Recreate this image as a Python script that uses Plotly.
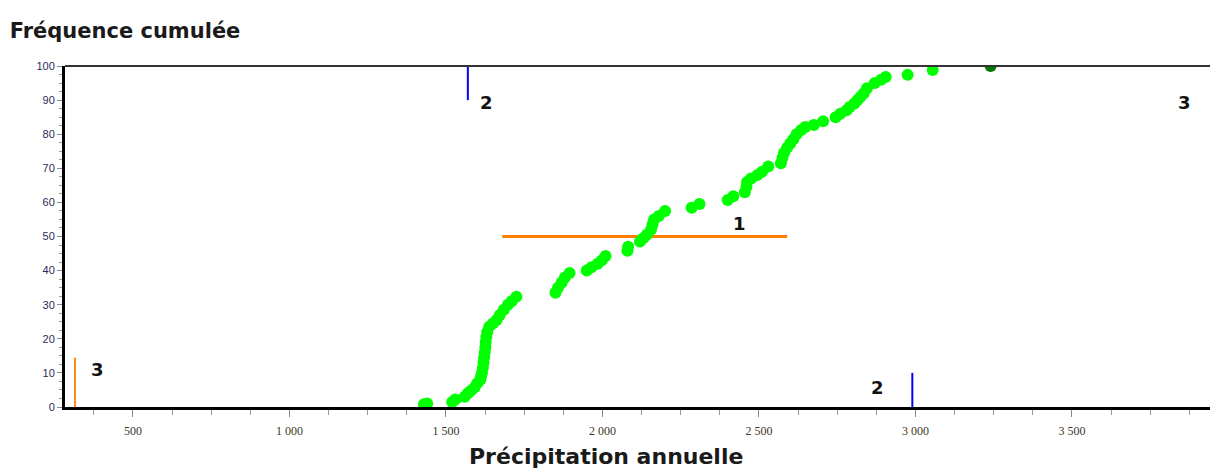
import plotly.graph_objects as go

# Annual precipitation (mm) and cumulative frequency (%)
precip = [1430, 1440, 1520, 1530, 1560, 1570, 1580, 1592, 1600, 1610,
          1612, 1615, 1618, 1620, 1622, 1624, 1626, 1627, 1629, 1632, 1638,
          1650, 1662, 1672, 1685, 1698, 1710, 1725,
          1850, 1858, 1870, 1880, 1895,
          1950, 1965, 1985, 1998, 2010,
          2080, 2082, 2120, 2130, 2142,
          2155, 2160, 2165, 2180, 2200,
          2285, 2310, 2400, 2418,
          2455, 2460, 2462, 2475, 2495, 2510, 2530,
          2570, 2575, 2580, 2590, 2600,
          2610, 2620, 2635, 2648, 2675, 2705,
          2745, 2760, 2780, 2790,
          2805, 2815, 2825, 2835, 2845,
          2870, 2890, 2905, 2975, 3055]
freq = [0.8, 1.0, 1.5, 2.2, 3.0, 4.0, 4.8, 5.8, 7.0, 8.0,
        9.0, 10.0, 11.5, 13.0, 14.5, 16.0, 17.5, 19.0, 20.5, 22.0, 23.5,
        24.5, 25.5, 27.0, 28.5, 30.0, 31.0, 32.3,
        33.5, 35.0, 36.5, 38.0, 39.3,
        40.0, 41.0, 42.0, 43.0, 44.3,
        45.8, 47.0, 48.5, 49.5, 50.5,
        52.0, 53.5, 55.0, 56.0, 57.5,
        58.4, 59.5, 60.7, 61.8,
        63.0, 64.5, 66.0, 67.0, 68.0, 69.0, 70.5,
        71.5, 73.0, 74.5, 76.0, 77.3,
        78.5, 80.0, 81.2, 82.1, 82.7, 83.8,
        85.0, 86.0, 87.0, 88.0,
        89.0, 90.0, 91.0, 92.0, 93.5,
        95.0, 96.0, 96.8, 97.4, 98.8]

# Maximum value, highlighted separately
max_precip = [3240]
max_freq = [100]

# Reference marks
median_x = [1680, 2590]
median_y = [50, 50]
q_low_x = [1570, 1570]
q_low_y = [90, 100]
q_high_x = [2990, 2990]
q_high_y = [0, 10]
min_x = [315, 315]
min_y = [0, 14.5]

x_tickvals = [500, 1000, 1500, 2000, 2500, 3000, 3500]
x_ticktext = ["500", "1 000", "1 500", "2 000", "2 500", "3 000", "3 500"]
y_tickvals = [0, 10, 20, 30, 40, 50, 60, 70, 80, 90, 100]

# Marker labels: (x, y, text)
labels = [(2439, 53.8, "1"), (1631, 89.2, "2"), (2880, 5.6, "2"),
          (388, 11.0, "3"), (3861, 89.4, "3")]

fig = go.Figure()

fig.add_trace(go.Scatter(x=median_x, y=median_y, mode="lines",
                         line=dict(color="#ff8000", width=3), showlegend=False))
fig.add_trace(go.Scatter(x=min_x, y=min_y, mode="lines",
                         line=dict(color="#ff8c1a", width=2), showlegend=False))
fig.add_trace(go.Scatter(x=q_low_x, y=q_low_y, mode="lines",
                         line=dict(color="#0000ff", width=2), showlegend=False))
fig.add_trace(go.Scatter(x=q_high_x, y=q_high_y, mode="lines",
                         line=dict(color="#0000ff", width=2), showlegend=False))

fig.add_trace(go.Scatter(x=precip, y=freq, mode="markers",
                         marker=dict(color="#00ff00", size=12, symbol="circle",
                                     line=dict(width=0)),
                         showlegend=False))
fig.add_trace(go.Scatter(x=max_precip, y=max_freq, mode="markers",
                         marker=dict(color="#007a00", size=12, symbol="circle",
                                     line=dict(width=0)),
                         showlegend=False))

for lx, ly, txt in labels:
    fig.add_annotation(x=lx, y=ly, text="<b>" + txt + "</b>", showarrow=False,
                       font=dict(family="DejaVu Sans", size=18, color="#111111"))

# X-axis title, placed slightly left of the plot centre
fig.add_annotation(x=0.4725, y=-0.1466, xref="paper", yref="paper",
                   xanchor="center", yanchor="middle", showarrow=False,
                   text="<b>Précipitation annuelle</b>",
                   font=dict(family="DejaVu Sans", size=22, color="#1a1a1a"))

# Top frame line
fig.add_shape(type="line", xref="paper", yref="paper", x0=0, x1=1, y0=1, y1=1,
              line=dict(color="#333333", width=2))

fig.update_layout(
    width=1210, height=469,
    margin=dict(l=65, r=0, t=66, b=62),
    plot_bgcolor="white", paper_bgcolor="white",
    font=dict(family="Liberation Sans Narrow, Liberation Sans", size=11),
    xaxis=dict(
        range=[283, 3941], tickvals=x_tickvals, ticktext=x_ticktext,
        showgrid=False, zeroline=False,
        showline=True, linecolor="black", linewidth=3,
        ticks="outside", ticklen=7, tickcolor="#888888", tickwidth=1,
        ticklabelstandoff=4,
        tickfont=dict(family="Liberation Sans Narrow", size=12, color="#3d3528"),
        minor=dict(dtick=125, tick0=0, ticks="outside", ticklen=5,
                   tickcolor="#999999", tickwidth=1, showgrid=False),
    ),
    yaxis=dict(
        range=[0, 100], tickvals=y_tickvals,
        showgrid=False, zeroline=False,
        showline=True, linecolor="black", linewidth=3,
        ticks="outside", ticklen=5, tickcolor="#888888", tickwidth=1,
        tickfont=dict(family="Liberation Sans", size=11, color="#2b2b5a"),
        minor=dict(dtick=2.5, ticks="outside", ticklen=3,
                   tickcolor="#999999", tickwidth=1, showgrid=False),
    ),
    title=dict(text="<b>Fréquence cumulée</b>", x=0.008, xanchor="left",
               y=0.935, yanchor="middle",
               font=dict(family="DejaVu Sans", size=21, color="#1a1a1a")),
)

fig.write_html("out.html")
